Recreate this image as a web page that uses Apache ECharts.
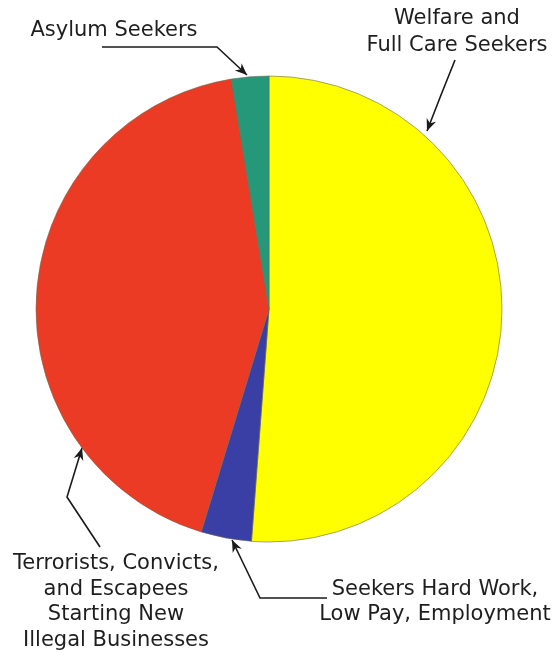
<!DOCTYPE html>
<html>
<head>
<meta charset="utf-8">
<script src="https://cdn.jsdelivr.net/npm/echarts@6/dist/echarts.min.js"></script>
<style>
html,body{margin:0;padding:0;background:#fff;}
#chart{width:559px;height:656px;}
</style>
</head>
<body>
<div id="chart"></div>
<script>
// Data
const categories = [
  'Welfare and\nFull Care Seekers',
  'Seekers Hard Work,\nLow Pay, Employment',
  'Terrorists, Convicts,\nand Escapees\nStarting New\nIllegal Businesses',
  'Asylum Seekers'
];
const values = [51.2, 3.5, 42.7, 2.6];
const colors = ['#ffff00', '#3a3fa6', '#ec3b24', '#26987a'];

// Layout of the annotation labels (text anchor + leader polyline, tip first)
const labelPos = [
  { x: 457, y: 32, lh: 27, pts: [[427,131],[441,95],[455,60]] },
  { x: 435, y: 602, lh: 25.5, pts: [[232,540],[260,598],[327,598]] },
  { x: 116, y: 602, lh: 25.5, pts: [[82,448],[67,497],[100,547]] },
  { x: 114, y: 31, lh: 25.5, pts: [[247,75],[217,47],[102,47]] }
];

const chart = echarts.init(document.getElementById('chart'), null, {renderer: 'canvas'});

function arrowHead(p0, p1) {
  const dx = p0[0] - p1[0], dy = p0[1] - p1[1];
  const len = Math.sqrt(dx*dx + dy*dy);
  const ux = dx/len, uy = dy/len;
  const L = 12, W = 5;
  const bx = p0[0] - ux*L, by = p0[1] - uy*L;
  return {
    type: 'polygon',
    shape: { points: [p0, [bx - uy*W, by + ux*W], [p0[0]-ux*L*0.7, p0[1]-uy*L*0.7], [bx + uy*W, by - ux*W]] },
    style: { fill: '#1a1a1a' },
    z: 100
  };
}

const graphics = labelPos.map(l => arrowHead(l.pts[0], l.pts[1]));

chart.setOption({
  animation: false,
  backgroundColor: '#ffffff',
  graphic: graphics,
  series: [{
    type: 'pie',
    center: [269, 309],
    radius: 233,
    startAngle: 90,
    clockwise: true,
    avoidLabelOverlap: false,
    data: categories.map((c, i) => ({
      name: c, value: values[i],
      itemStyle: { color: colors[i] },
      label: { lineHeight: labelPos[i].lh }
    })),
    itemStyle: { borderColor: '#6a6a55', borderWidth: 0.6 },
    label: {
      show: true,
      formatter: '{b}',
      color: '#1e1e1e',
      fontFamily: 'DejaVu Sans, sans-serif',
      fontSize: 21,
      lineHeight: 25.5
    },
    labelLine: {
      show: true,
      lineStyle: { color: '#1a1a1a', width: 1.6 }
    },
    labelLayout: function (params) {
      const l = labelPos[params.dataIndex];
      return {
        x: l.x, y: l.y,
        align: 'center',
        verticalAlign: 'middle',
        labelLinePoints: l.pts
      };
    }
  }]
});
</script>
</body>
</html>
